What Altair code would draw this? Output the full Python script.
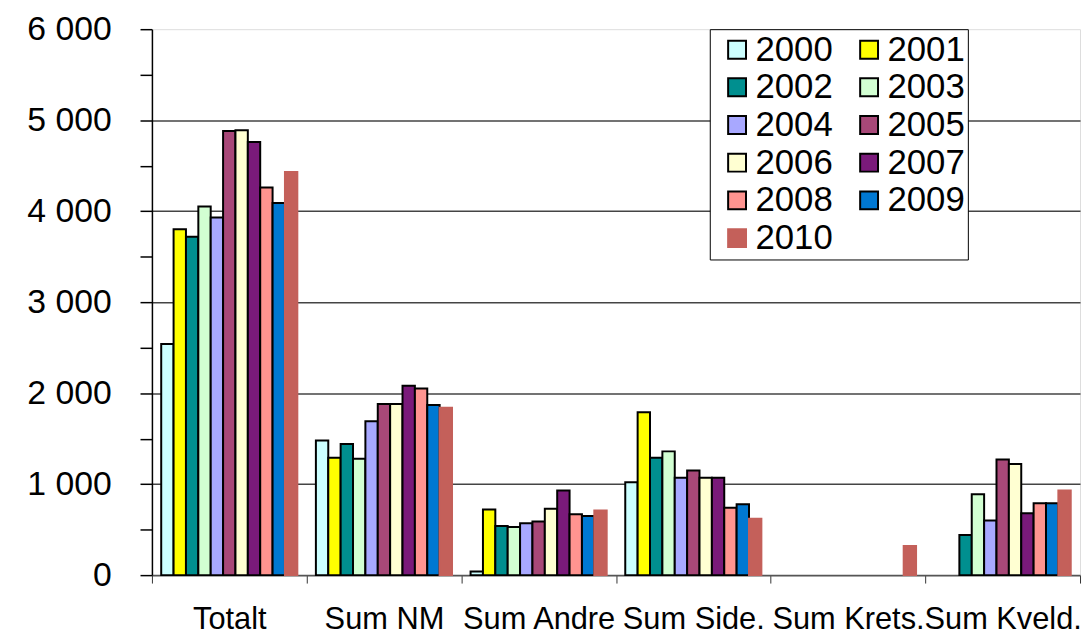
import altair as alt
import pandas as pd

categories = ["Totalt", "Sum NM", "Sum Andre", "Sum Side.", "Sum Krets.", "Sum Kveld."]
years = ["2000", "2001", "2002", "2003", "2004", "2005", "2006", "2007", "2008", "2009", "2010"]

v2000 = [2540, 1480, 40, 1020, None, None]
v2001 = [3800, 1290, 720, 1790, None, None]
v2002 = [3720, 1440, 540, 1290, None, 440]
v2003 = [4050, 1280, 530, 1360, None, 890]
v2004 = [3930, 1690, 570, 1070, None, 600]
v2005 = [4880, 1880, 590, 1150, None, 1270]
v2006 = [4890, 1880, 730, 1070, None, 1220]
v2007 = [4760, 2080, 930, 1070, None, 680]
v2008 = [4260, 2050, 670, 740, None, 790]
v2009 = [4090, 1870, 650, 780, None, 790]
v2010 = [4430, 1840, 710, 620, 320, 930]

series = [v2000, v2001, v2002, v2003, v2004, v2005, v2006, v2007, v2008, v2009, v2010]

colors = ["#CCFFFF", "#FFFF00", "#008F8F", "#D2FFD2", "#A8A8FF", "#A84878",
          "#FFFFD2", "#7A1A7A", "#FF9490", "#0078D2", "#C4605A"]
strokes = ["#000000"] * 10 + ["#C4605A"]

rows = []
for y, vals in zip(years, series):
    for c, v in zip(categories, vals):
        if v is not None:
            rows.append({"kategori": c, "year": y, "value": v})
df = pd.DataFrame(rows)

FONT = "Liberation Sans"

legend = alt.Legend(
    title=None, orient="none", legendX=562, legendY=0, columns=2, direction="horizontal",
    fillColor="white", strokeColor="black", padding=3,
    symbolType="square", symbolSize=324, symbolStrokeWidth=2, symbolOffset=7,
    labelFontSize=35, labelFont=FONT, labelColor="black", labelOffset=1,
    columnPadding=12, rowPadding=2,
)

chart = alt.Chart(df).mark_bar(strokeWidth=2).encode(
    x=alt.X("kategori:N", sort=categories,
            scale=alt.Scale(paddingInner=0, paddingOuter=0),
            axis=alt.Axis(title=None, labelAngle=0, labelFontSize=31, labelFont=FONT,
                          labelColor="black", tickBand="extent", tickSize=8,
                          tickColor="#333333", domainColor="#555555", domainWidth=2,
                          labelPadding=46, labelBaseline="alphabetic",
                          labelOverlap=False, grid=False)),
    xOffset=alt.XOffset("year:N", sort=years,
                        scale=alt.Scale(paddingInner=0, paddingOuter=0.75)),
    y=alt.Y("value:Q",
            scale=alt.Scale(domain=[0, 6000], nice=False),
            axis=alt.Axis(title=None, values=list(range(0, 6001, 500)),
                          labelExpr="datum.value % 1000 == 0 ? replace(format(datum.value, ','), ',', ' ') : ''",
                          grid=True, gridColor="#444444", gridWidth=1.5,
                          gridOpacity={"condition": {"test": "datum.value % 1000 == 0 && datum.value > 0 && datum.value < 6000", "value": 1}, "value": 0},
                          tickSize=12, tickColor="black", tickWidth=1.5,
                          domainColor="black", domainWidth=1.5,
                          labelFontSize=34, labelFont=FONT, labelColor="black",
                          labelPadding=29)),
    color=alt.Color("year:N", sort=years, scale=alt.Scale(domain=years, range=colors), legend=legend),
    stroke=alt.Stroke("year:N", sort=years, scale=alt.Scale(domain=years, range=strokes), legend=legend),
).properties(
    width=935, height=550,
    autosize=alt.AutoSizeParams(type="none"),
    padding={"left": 145, "top": 19, "right": 3, "bottom": 61},
).configure_view(
    fill="#CCCCCC", stroke="#999999", strokeWidth=2
).configure(background="white")

chart.save("out.html", embed_options={"renderer": "svg", "actions": False})
